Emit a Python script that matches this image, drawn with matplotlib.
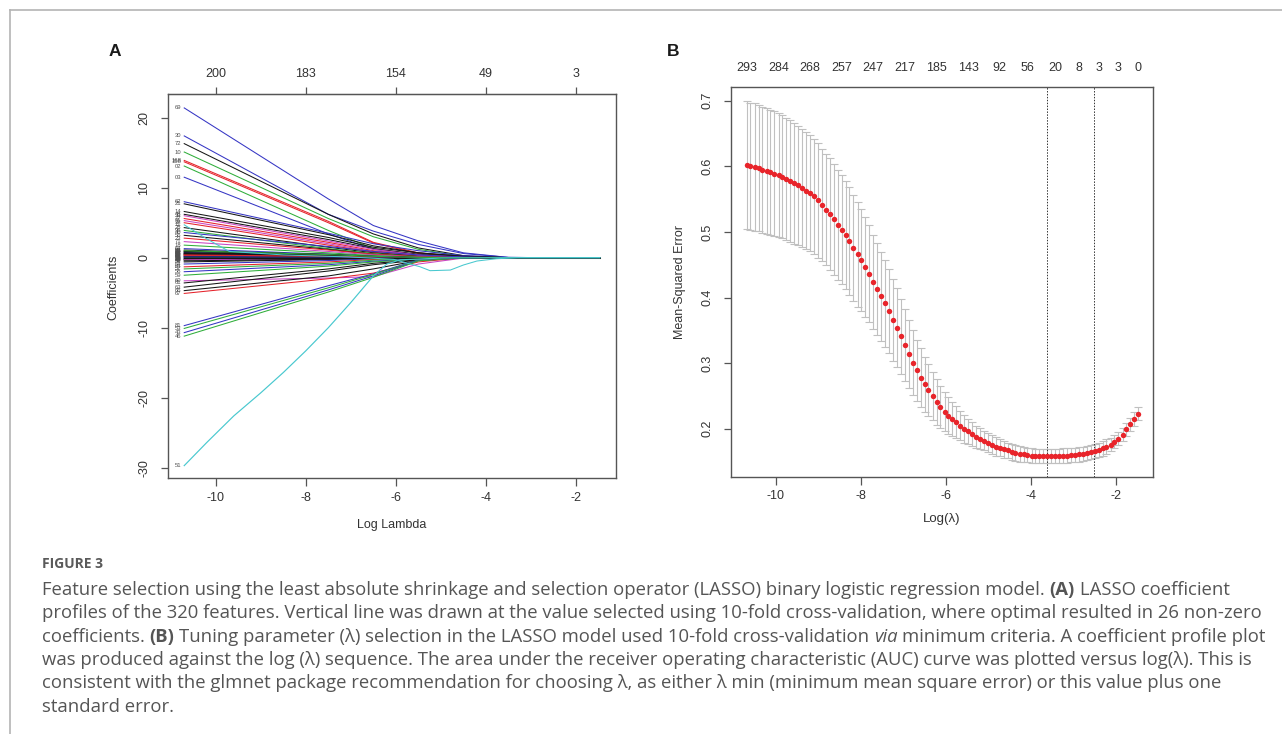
import matplotlib
matplotlib.use('Agg')
import matplotlib.pyplot as plt
from matplotlib.lines import Line2D
import numpy as np

plt.rcParams['font.family'] = ['Liberation Sans', 'DejaVu Sans']
plt.rcParams['axes.unicode_minus'] = False

W, H = 1282, 734

# ! -------------
# ! Panel A: LASSO coefficient profiles
loglam_knots = [-10.70, -7.5, -6.5, -5.5, -4.5, -3.5, -2.5, -1.47]

path_labels = ['69', '30', '72', '10', '168', '158', '02', '03', '62', '21',
               '14', '48', '33', '77', '91', '37', '28', '95', '40', '56',
               '23', '71', '18', '64', '26', '27', '85', '29', '65', '31',
               '32', '83', '34', '35', '36', '38', '39', '41', '42', '44',
               '45', '47', '49', '52', '54', '55', '57', '58', '59', '60',
               '61', '63', '66', '67', '81', '53', '43', '46',
               '70', '73', '74', '75', '76', '78', '79', '80', '82', '84']
path_colors = ['b', 'b', 'k', 'g', 'r', 'r', 'g', 'b', 'b', 'k',
               'k', 'k', 'm', 'r', 'm', 'r', 'k', 'g', 'b', 'k',
               'r', 'm', 'g', 'b', 'k', 'r', 'g', 'b', 'k', 'm',
               'k', 'r', 'g', 'b', 'k', 'c', 'k', 'r', 'g', 'k',
               'k', 'r', 'b', 'k', 'b', 'r', 'g', 'b', 'g', 'm',
               'k', 'k', 'k', 'r', 'b', 'g', 'b', 'g',
               'k', 'k', 'r', 'k', 'b', 'k', 'm', 'k', 'g', 'k']
path_values = [
    [21.4, 8.4, 4.6, 2.4, 0.7, 0.05, 0, 0],
    [17.4, 6.2, 3.8, 1.9, 0.6, 0.05, 0, 0],
    [16.3, 6.2, 3.4, 1.4, 0.3, 0, 0, 0],
    [15.1, 5.6, 3.0, 1.2, 0.2, 0, 0, 0],
    [13.9, 5.2, 2.2, 0.7, 0.1, 0, 0, 0],
    [13.7, 5.0, 2.1, 0.6, 0.1, 0, 0, 0],
    [13.1, 3.9, 1.3, 0.4, 0, 0, 0, 0],
    [11.5, 3.4, 1.2, 0.4, 0, 0, 0, 0],
    [8.0, 3.5, 2.0, 1.0, 0.3, 0, 0, 0],
    [7.7, 3.3, 1.7, 0.7, 0.2, 0, 0, 0],
    [6.6, 2.9, 1.5, 0.7, 0.2, 0, 0, 0],
    [6.2, 2.6, 1.3, 0.5, 0.1, 0, 0, 0],
    [6.0, 2.4, 1.2, 0.4, 0.05, 0, 0, 0],
    [5.6, 2.2, 1.0, 0.3, 0, 0, 0, 0],
    [5.3, 2.0, 0.9, 0.3, 0, 0, 0, 0],
    [5.0, 1.8, 0.8, 0.2, 0, 0, 0, 0],
    [4.3, 1.5, 0.7, 0.2, 0, 0, 0, 0],
    [3.9, 1.3, 0.6, 0.15, 0, 0, 0, 0],
    [3.6, 1.6, 0.9, 0.4, 0.1, 0, 0, 0],
    [3.2, 1.2, 0.5, 0.1, 0, 0, 0, 0],
    [2.8, 1.1, 0.5, 0.15, 0, 0, 0, 0],
    [2.3, 0.9, 0.4, 0.1, 0, 0, 0, 0],
    [1.8, 0.7, 0.3, 0.05, 0, 0, 0, 0],
    [1.3, 0.5, 0.2, 0, 0, 0, 0, 0],
    [1.1, 0.4, 0.15, 0, 0, 0, 0, 0],
    [0.95, 0.35, 0.1, 0, 0, 0, 0, 0],
    [0.85, 0.3, 0.1, 0, 0, 0, 0, 0],
    [0.75, 0.3, 0.1, 0, 0, 0, 0, 0],
    [0.65, 0.25, 0.05, 0, 0, 0, 0, 0],
    [0.55, 0.2, 0.05, 0, 0, 0, 0, 0],
    [0.45, 0.15, 0, 0, 0, 0, 0, 0],
    [0.35, 0.1, 0, 0, 0, 0, 0, 0],
    [0.25, 0.1, 0, 0, 0, 0, 0, 0],
    [0.15, 0.05, 0, 0, 0, 0, 0, 0],
    [0.05, 0, 0, 0, 0, 0, 0, 0],
    [-0.05, 0, 0, 0, 0, 0, 0, 0],
    [-0.15, -0.05, 0, 0, 0, 0, 0, 0],
    [-0.25, -0.1, 0, 0, 0, 0, 0, 0],
    [-0.35, -0.1, 0, 0, 0, 0, 0, 0],
    [0.6, 0.3, 0.1, 0, 0, 0, 0, 0],
    [0.5, 0.2, 0.05, 0, 0, 0, 0, 0],
    [0.3, 0.1, 0, 0, 0, 0, 0, 0],
    [0.2, 0.05, 0, 0, 0, 0, 0, 0],
    [-0.6, -0.25, -0.1, 0, 0, 0, 0, 0],
    [-0.9, -0.4, -0.15, 0, 0, 0, 0, 0],
    [-1.3, -0.6, -0.25, -0.05, 0, 0, 0, 0],
    [-1.6, -0.8, -0.35, -0.1, 0, 0, 0, 0],
    [-2.0, -1.0, -0.5, -0.15, 0, 0, 0, 0],
    [-2.5, -1.2, -0.6, -0.2, 0, 0, 0, 0],
    [-3.3, -2.9, -2.7, -0.9, -0.05, 0, 0, 0],
    [-3.6, -1.6, -0.8, -0.3, 0, 0, 0, 0],
    [-4.2, -1.9, -1.0, -0.35, 0, 0, 0, 0],
    [-4.7, -2.6, -1.6, -0.4, 0, 0, 0, 0],
    [-5.1, -3.0, -2.2, -0.6, 0, 0, 0, 0],
    [-9.7, -4.0, -2.3, -0.3, 0, 0, 0, 0],
    [-10.1, -4.3, -2.4, -0.35, 0, 0, 0, 0],
    [-10.7, -4.6, -2.6, -0.4, 0, 0, 0, 0],
    [-11.2, -4.9, -2.8, -0.45, 0, 0, 0, 0],
    [0.9, 0.5, 0.2, 0.05, 0, 0, 0, 0],
    [0.7, 0.4, 0.15, 0, 0, 0, 0, 0],
    [0.4, 0.2, 0.1, 0, 0, 0, 0, 0],
    [0.1, 0.05, 0, 0, 0, 0, 0, 0],
    [-0.1, -0.05, 0, 0, 0, 0, 0, 0],
    [-0.2, -0.1, -0.05, 0, 0, 0, 0, 0],
    [-0.3, -0.15, 0, 0, 0, 0, 0, 0],
    [-0.45, -0.2, -0.05, 0, 0, 0, 0, 0],
    [1.0, 0.45, 0.2, 0.05, 0, 0, 0, 0],
    [0.0, 0.0, 0, 0, 0, 0, 0, 0],
]

# two cyan paths that do not follow the common knots
cyan51_loglam = [-10.70, -10.2, -9.6, -9.0, -8.5, -8.0, -7.5, -7.0, -6.5, -6.2, -5.9, -5.0, -3.3, -1.47]
cyan51_coef = [-29.7, -26.4, -22.6, -19.3, -16.4, -13.3, -10.0, -6.4, -2.6, -0.9, -0.3, -0.05, 0, 0]
cyan12_loglam = [-10.70, -10.2, -9.7, -8.5, -7.0, -6.05, -5.46, -5.24, -4.79, -4.5, -4.2, -3.76, -3.3, -1.47]
cyan12_coef = [4.7, 2.7, 0.9, 0.4, 0.1, -0.23, -1.3, -1.85, -1.76, -1.04, -0.47, -0.14, 0, 0]

top_df_at = [-10, -8, -6, -4, -2]
top_df_labels = ['200', '183', '154', '49', '3']

# ! -------------
# ! Panel B: 10-fold CV mean-squared error
log_lambda = [-10.69, -10.60, -10.50, -10.41, -10.32, -10.22, -10.13, -10.04, -9.94, -9.85,
              -9.76, -9.67, -9.57, -9.48, -9.39, -9.29, -9.20, -9.11, -9.01, -8.92,
              -8.83, -8.73, -8.64, -8.55, -8.45, -8.36, -8.27, -8.18, -8.08, -7.99,
              -7.90, -7.80, -7.71, -7.62, -7.52, -7.43, -7.34, -7.24, -7.15, -7.06,
              -6.97, -6.87, -6.78, -6.69, -6.59, -6.50, -6.41, -6.31, -6.22, -6.13,
              -6.03, -5.94, -5.85, -5.75, -5.66, -5.57, -5.47, -5.38, -5.29, -5.20,
              -5.10, -5.01, -4.92, -4.82, -4.73, -4.64, -4.54, -4.45, -4.36, -4.26,
              -4.17, -4.08, -3.98, -3.89, -3.80, -3.71, -3.61, -3.52, -3.43, -3.33,
              -3.24, -3.15, -3.05, -2.96, -2.87, -2.77, -2.68, -2.59, -2.49, -2.40,
              -2.31, -2.22, -2.12, -2.03, -1.94, -1.84, -1.75, -1.66, -1.56, -1.47]
cv_mse = [0.602, 0.600, 0.599, 0.597, 0.595, 0.593, 0.591, 0.589, 0.587, 0.584,
          0.581, 0.578, 0.574, 0.571, 0.567, 0.563, 0.559, 0.554, 0.548, 0.541,
          0.534, 0.527, 0.519, 0.511, 0.503, 0.495, 0.486, 0.476, 0.466, 0.457,
          0.447, 0.436, 0.424, 0.413, 0.402, 0.391, 0.379, 0.366, 0.354, 0.341,
          0.328, 0.314, 0.301, 0.289, 0.278, 0.268, 0.259, 0.250, 0.241, 0.233,
          0.226, 0.220, 0.215, 0.210, 0.205, 0.200, 0.196, 0.192, 0.188, 0.185,
          0.182, 0.179, 0.176, 0.173, 0.171, 0.169, 0.167, 0.165, 0.163, 0.162,
          0.161, 0.160, 0.159, 0.1588, 0.1587, 0.1586, 0.1585, 0.1586, 0.1587, 0.1588,
          0.159, 0.1593, 0.1597, 0.160, 0.161, 0.162, 0.163, 0.1645, 0.166, 0.168,
          0.170, 0.173, 0.176, 0.180, 0.185, 0.191, 0.199, 0.207, 0.215, 0.223]
cv_sd = [0.097, 0.097, 0.097, 0.096, 0.096, 0.096, 0.095, 0.095, 0.094, 0.094,
         0.093, 0.093, 0.092, 0.091, 0.090, 0.089, 0.088, 0.087, 0.087, 0.086,
         0.085, 0.085, 0.084, 0.084, 0.083, 0.082, 0.082, 0.081, 0.080, 0.078,
         0.076, 0.074, 0.072, 0.070, 0.068, 0.066, 0.064, 0.062, 0.060, 0.057,
         0.055, 0.052, 0.050, 0.047, 0.045, 0.042, 0.040, 0.037, 0.035, 0.032,
         0.030, 0.028, 0.026, 0.024, 0.022, 0.021, 0.019, 0.018, 0.017, 0.016,
         0.015, 0.015, 0.014, 0.014, 0.013, 0.013, 0.012, 0.012, 0.012, 0.012,
         0.011, 0.011, 0.011, 0.011, 0.011, 0.011, 0.011, 0.011, 0.011, 0.011,
         0.011, 0.011, 0.011, 0.011, 0.011, 0.011, 0.011, 0.011, 0.011, 0.011,
         0.011, 0.011, 0.010, 0.010, 0.010, 0.010, 0.010, 0.010, 0.010, 0.010]
nz_index = [0, 8, 16, 24, 32, 40, 48, 56, 64, 71, 78, 84, 89, 94, 99]
nz_labels = ['293', '284', '268', '257', '247', '217', '185', '143', '92', '56', '20', '8', '3', '3', '0']
log_lambda_min = -3.62
log_lambda_1se = -2.51

caption_title = 'FIGURE 3'
caption_lines = [
    [('Feature selection using the least absolute shrinkage and selection operator (LASSO) binary logistic regression model.', 'normal', 'normal'),
     ('(A)', 'bold', 'normal'), ('LASSO coefficient', 'normal', 'normal')],
    [('profiles of the 320 features. Vertical line was drawn at the value selected using 10-fold cross-validation, where optimal resulted in 26 non-zero', 'normal', 'normal')],
    [('coefficients.', 'normal', 'normal'), ('(B)', 'bold', 'normal'),
     ('Tuning parameter (\u03bb) selection in the LASSO model used 10-fold cross-validation', 'normal', 'normal'),
     ('via', 'normal', 'italic'), ('minimum criteria. A coefficient profile plot', 'normal', 'normal')],
    [('was produced against the log (\u03bb) sequence. The area under the receiver operating characteristic (AUC) curve was plotted versus log(\u03bb). This is', 'normal', 'normal')],
    [('consistent with the glmnet package recommendation for choosing \u03bb, as either \u03bb min (minimum mean square error) or this value plus one', 'normal', 'normal')],
    [('standard error.', 'normal', 'normal')],
]

# ! -------------
# ! Figure
r_cols = {'k': '#161616', 'r': '#e5232b', 'g': '#2fae3a', 'b': '#3535c4', 'c': '#48c8cf', 'm': '#c845c4'}
axis_col = '#555555'


def fx(px):
    return px / W


def fy(py):
    return 1 - py / H


fig = plt.figure(figsize=(W / 100, H / 100), dpi=100)

axA = fig.add_axes([fx(167.7), fy(478.3), (616 - 167.7) / W, (478.3 - 94) / H])
axB = fig.add_axes([fx(731.3), fy(476.7), (1152.7 - 731.3) / W, (476.7 - 87.3) / H])

for ax in (axA, axB):
    for sp in ax.spines.values():
        sp.set_color(axis_col)
        sp.set_linewidth(1.0)
    ax.tick_params(axis='x', direction='out', length=5.4, width=0.9, color=axis_col,
                   labelsize=9, labelcolor='#333333', pad=4.5)
    ax.tick_params(axis='y', direction='out', length=5.4, width=0.9, color=axis_col,
                   labelsize=9, labelcolor='#333333', pad=7.3, labelrotation=90)

# --- panel A
for vals, col in zip(path_values, path_colors):
    axA.plot(loglam_knots, vals, color=r_cols[col], lw=0.75)
axA.plot(cyan12_loglam, cyan12_coef, color=r_cols['c'], lw=0.75)
axA.plot(cyan51_loglam, cyan51_coef, color=r_cols['c'], lw=0.85)

for vals, lab in zip(path_values, path_labels):
    axA.text(loglam_knots[0] - 0.07, vals[0], lab, fontsize=4.2, color='#505050', ha='right', va='center')
axA.text(cyan12_loglam[0] - 0.07, cyan12_coef[0], '12', fontsize=4.2, color='#505050', ha='right', va='center')
axA.text(cyan51_loglam[0] - 0.07, cyan51_coef[0], '51', fontsize=4.2, color='#505050', ha='right', va='center')

axA.set_xlim(-11.067, -1.111)
axA.set_ylim(-31.51, 23.39)
axA.set_xticks([-10, -8, -6, -4, -2])
axA.set_yticks([-30, -20, -10, 0, 10, 20])
for lbl in axA.get_yticklabels():
    lbl.set_va('center')

secA = axA.secondary_xaxis('top')
secA.set_xticks(top_df_at, labels=top_df_labels)
secA.tick_params(direction='out', length=5.4, width=0.9, color=axis_col,
                 labelsize=9, labelcolor='#333333', pad=5)
secA.spines['top'].set_color(axis_col)

# --- panel B
axB.errorbar(log_lambda, cv_mse, yerr=cv_sd, fmt='none', ecolor='#c0c0c0',
             elinewidth=0.8, capsize=2.8, capthick=0.8, zorder=1)
axB.plot(log_lambda, cv_mse, 'o', color='#e8242a', ms=3.9, mec='none', zorder=3)
axB.axvline(log_lambda_min, color='#333333', lw=0.7, ls=(0, (1.5, 1.5)), zorder=2)
axB.axvline(log_lambda_1se, color='#333333', lw=0.7, ls=(0, (1.5, 1.5)), zorder=2)

axB.set_xlim(-11.052, -1.129)
axB.set_ylim(0.127, 0.7204)
axB.set_xticks([-10, -8, -6, -4, -2])
axB.set_yticks([0.2, 0.3, 0.4, 0.5, 0.6, 0.7])
axB.set_yticklabels(['0.2', '0.3', '0.4', '0.5', '0.6', '0.7'])
for lbl in axB.get_yticklabels():
    lbl.set_va('center')

for i, lab in zip(nz_index, nz_labels):
    axB.text(log_lambda[i], 1 + (87.3 - 68) / (476.7 - 87.3), lab, transform=axB.get_xaxis_transform(),
             ha='center', va='center', fontsize=9, color='#333333')

# axis titles
fig.text(fx(113), fy(287), 'Coefficients', rotation=90, ha='center', va='center', fontsize=9, color='#333333')
fig.text(fx(392), fy(525), 'Log Lambda', ha='center', va='center', fontsize=9, color='#333333')
fig.text(fx(680), fy(282), 'Mean-Squared Error', rotation=90, ha='center', va='center', fontsize=9, color='#333333')
fig.text(fx(942), fy(519), 'Log(\u03bb)', ha='center', va='center', fontsize=9.5, color='#333333')

# panel letters
fig.text(fx(115), fy(52), 'A', ha='center', va='center', fontsize=12.5, fontweight='bold', color='#1a1a1a')
fig.text(fx(673), fy(52), 'B', ha='center', va='center', fontsize=12.5, fontweight='bold', color='#1a1a1a')

# frame lines of the page
fig.add_artist(Line2D([fx(9.5), 1], [fy(10), fy(10)], color='#b4b4b4', lw=1.2))
fig.add_artist(Line2D([fx(9.5), fx(9.5)], [fy(10), 0], color='#b4b4b4', lw=1.2))

# ! -------------
# ! Caption
cap_font = ['Open Sans', 'DejaVu Sans']
cap_size = 13.3
cap_col = '#555555'
renderer = fig.canvas.get_renderer()

fig.text(fx(42), fy(564), caption_title, fontsize=10, fontweight='bold', color='#5a5a5a',
         family=cap_font, ha='left', va='center')

probe1 = fig.text(0, 0, 'x x', fontsize=cap_size, family=cap_font)
probe2 = fig.text(0, 0, 'xx', fontsize=cap_size, family=cap_font)
space_w = probe1.get_window_extent(renderer).width - probe2.get_window_extent(renderer).width
probe1.remove()
probe2.remove()

line_y = [590, 613.3, 636.6, 660, 683.3, 706.6]
for segs, ypx in zip(caption_lines, line_y):
    xpx = 42
    for txt, weight, style in segs:
        t = fig.text(fx(xpx), fy(ypx), txt, fontsize=cap_size, fontweight=weight, fontstyle=style,
                     color=cap_col, family=cap_font, ha='left', va='center')
        xpx += t.get_window_extent(renderer).width + space_w

fig.savefig('out.png', dpi=100)
